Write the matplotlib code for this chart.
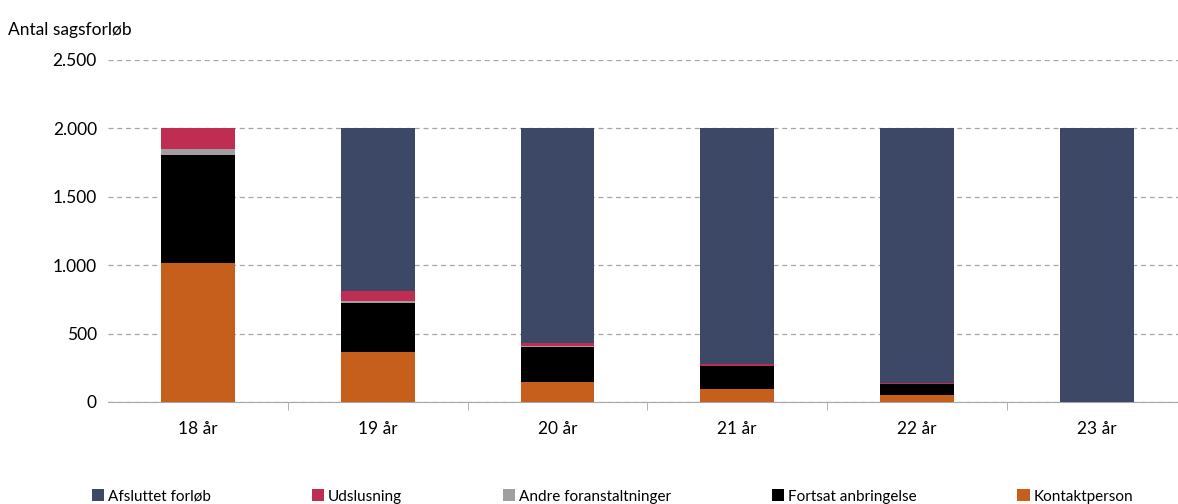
import matplotlib
matplotlib.use("Agg")
import matplotlib.pyplot as plt
from matplotlib.ticker import FuncFormatter
import numpy as np

plt.rcParams['font.family'] = ['Lato', 'DejaVu Sans']

categories = ['18 år', '19 år', '20 år', '21 år', '22 år', '23 år']
kontaktperson = [1014, 364, 144, 95, 49, 0]
fortsat = [794, 363, 261, 168, 81, 0]
andre = [44, 12, 7, 3, 2, 0]
udslusning = [148, 69, 20, 14, 5, 0]
afsluttet = [0, 1192, 1568, 1720, 1863, 2000]

series = [
    ('Kontaktperson', kontaktperson, '#C55F1B'),
    ('Fortsat anbringelse', fortsat, '#000000'),
    ('Andre foranstaltninger', andre, '#A0A0A0'),
    ('Udslusning', udslusning, '#C02D52'),
    ('Afsluttet forløb', afsluttet, '#3D4866'),
]

fig = plt.figure(figsize=(11.78, 5.04), dpi=100)
ax = fig.add_axes([0.0917, 0.2024, 0.908, 0.6786])

x = np.arange(len(categories))
bottom = np.zeros(len(categories))
handles = {}
for name, vals, col in series:
    vals = np.array(vals, dtype=float)
    b = ax.bar(x, vals, 0.41, bottom=bottom, color=col, zorder=3)
    handles[name] = b
    bottom += vals

ax.set_ylim(0, 2500)
ax.set_xlim(-0.5, 5.45)
ax.set_yticks(range(0, 2501, 500))
ax.yaxis.set_major_formatter(FuncFormatter(lambda v, p: f'{int(v):,}'.replace(',', '.')))
ax.grid(axis='y', linestyle=(0, (4, 3)), color='#A6A6A6', linewidth=0.9, zorder=0)
for s in ['top', 'right', 'left']:
    ax.spines[s].set_visible(False)
ax.spines['bottom'].set_color('#A6A6A6')
ax.tick_params(axis='y', length=0, labelsize=12.5, pad=8)
ax.set_xticks(x)
ax.set_xticklabels(categories)
ax.tick_params(axis='x', length=0, labelsize=12.5, pad=14)
ax.set_xticks(np.arange(0.5, 5.5, 1), minor=True)
ax.tick_params(axis='x', which='minor', length=6, color='#A6A6A6')

fig.text(0.007, 0.94, 'Antal sagsforløb', fontsize=12.5, va='center')

order = ['Afsluttet forløb', 'Udslusning', 'Andre foranstaltninger', 'Fortsat anbringelse', 'Kontaktperson']
fig.legend([handles[n] for n in order], order, loc='center', bbox_to_anchor=(0.52, 0.015),
           ncol=5, frameon=False, fontsize=11, handlelength=0.8, handleheight=0.8,
           handletextpad=0.25, columnspacing=6.6)

fig.savefig('out.png', dpi=100)
